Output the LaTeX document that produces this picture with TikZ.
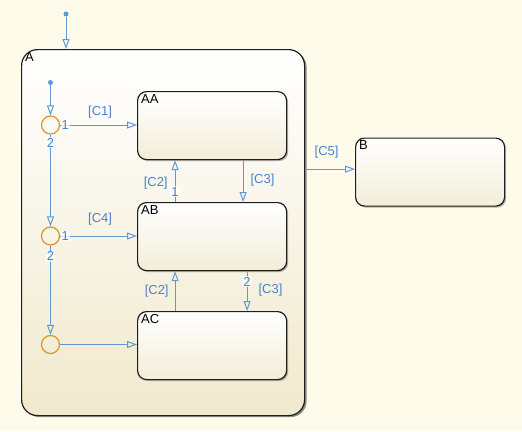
\documentclass[tikz,border=0pt]{standalone}
\usepackage{fontspec}
\setmainfont{Liberation Sans}
\usetikzlibrary{arrows.meta,shadows,positioning}
\definecolor{bg}{RGB}{254,251,235}
\definecolor{creamA}{RGB}{241,233,205}
\definecolor{creamS}{RGB}{243,237,216}
\definecolor{tblue}{RGB}{96,152,215}
\definecolor{lblue}{RGB}{72,132,200}
\definecolor{jorange}{RGB}{222,150,35}
\definecolor{sborder}{RGB}{30,30,30}
\begin{document}
\begin{tikzpicture}[x=1pt,y=-1pt,
  font=\fontsize{13}{15}\selectfont,
  superbox/.style={draw=sborder, line width=1.2pt, rounded corners=16pt, top color=white, bottom color=creamA,
    drop shadow={shadow xshift=2pt,shadow yshift=-1.5pt,fill=black!60,opacity=0.75}},
  statebox/.style={draw=sborder, line width=1.2pt, rounded corners=9pt, top color=white, bottom color=creamS,
    minimum width=149pt, minimum height=68pt, anchor=north west, inner sep=0pt,
    drop shadow={shadow xshift=1.5pt,shadow yshift=-1.5pt,fill=black!50,opacity=0.6}},
  sname/.style={anchor=north west, inner sep=0pt, text=black},
  junction/.style={circle, draw=jorange, line width=1.2pt, minimum size=18pt, inner sep=0pt},
  dflt/.style={circle, fill=tblue, minimum size=5pt, inner sep=0pt},
  trans/.style={draw=tblue, line width=1pt, -{Triangle[open, length=10pt, width=7pt, line width=1pt]}},
  tlab/.style={text=lblue, inner sep=1pt},
  nlab/.style={text=lblue, inner sep=1pt, fill=white, fill opacity=0.75, text opacity=1},
]
\fill[bg] (0,0) rectangle (522,431);
\useasboundingbox (0,0) rectangle (522,431);

% superstate A
\node[superbox, minimum width=283pt, minimum height=366pt, anchor=north west, inner sep=0pt] (A) at (21,49) {};
\node[sname] at ([shift={(4,3)}]A.north west) {A};

% substates
\node[statebox] (AA) at (137,91) {};
\node[sname] at ([shift={(4,3)}]AA.north west) {AA};
\node[statebox] (AB) at (137,202) {};
\node[sname] at ([shift={(4,3)}]AB.north west) {AB};
\node[statebox] (AC) at (137,311) {};
\node[sname] at ([shift={(4,3)}]AC.north west) {AC};
\node[statebox] (B) at (355,137.5) {};
\node[sname] at ([shift={(4,3)}]B.north west) {B};

% default transitions
\node[dflt] (d0) at (66,14) {};
\draw[trans] (d0) -- (d0 |- A.north);
\node[junction] (J1) at (50.5,125) {};
\node[junction] (J2) at (50.5,236) {};
\node[junction] (J3) at (50.5,344.5) {};
\node[dflt] (d1) at (50.5,82.5) {};
\draw[trans] (d1) -- (J1.north);

% junction transitions
\draw[trans] (J1.east) -- node[nlab, pos=0, anchor=west] {1}
  node[tlab, pos=0.52, above=5.5pt] {[C1]} (J1.east -| AA.west);
\draw[trans] (J1.south) -- node[nlab, pos=0.09] {2} (J2.north);
\draw[trans] (J2.east) -- node[nlab, pos=0, anchor=west] {1}
  node[tlab, pos=0.52, above=9pt] {[C4]} (J2.east -| AB.west);
\draw[trans] (J2.south) -- node[nlab, pos=0.12] {2} (J3.north);
\draw[trans] (J3.east) -- (J3.east -| AC.west);

% AA <-> AB
\draw[trans] ([xshift=-37pt]AB.north) -- node[nlab, pos=0.25] {1}
  node[tlab, pos=0.46, left=6pt] {[C2]} ([xshift=-37pt]AA.south);
\draw[trans] ([xshift=31pt]AA.south) -- node[tlab, pos=0.47, right=6pt] {[C3]} ([xshift=31pt]AB.north);

% AB <-> AC
\draw[trans] ([xshift=-37pt]AC.north) -- node[tlab, pos=0.49, left=5pt] {[C2]} ([xshift=-37pt]AB.south);
\draw[trans] ([xshift=35pt]AB.south) -- node[nlab, pos=0.26] {2}
  node[tlab, pos=0.48, right=10pt] {[C3]} ([xshift=35pt]AC.north);

% A -> B
\draw[trans] ([yshift=3pt]B.west -| A.east) -- node[tlab, pos=0.43, above=9pt] {[C5]} ([yshift=3pt]B.west);
\end{tikzpicture}
\end{document}
